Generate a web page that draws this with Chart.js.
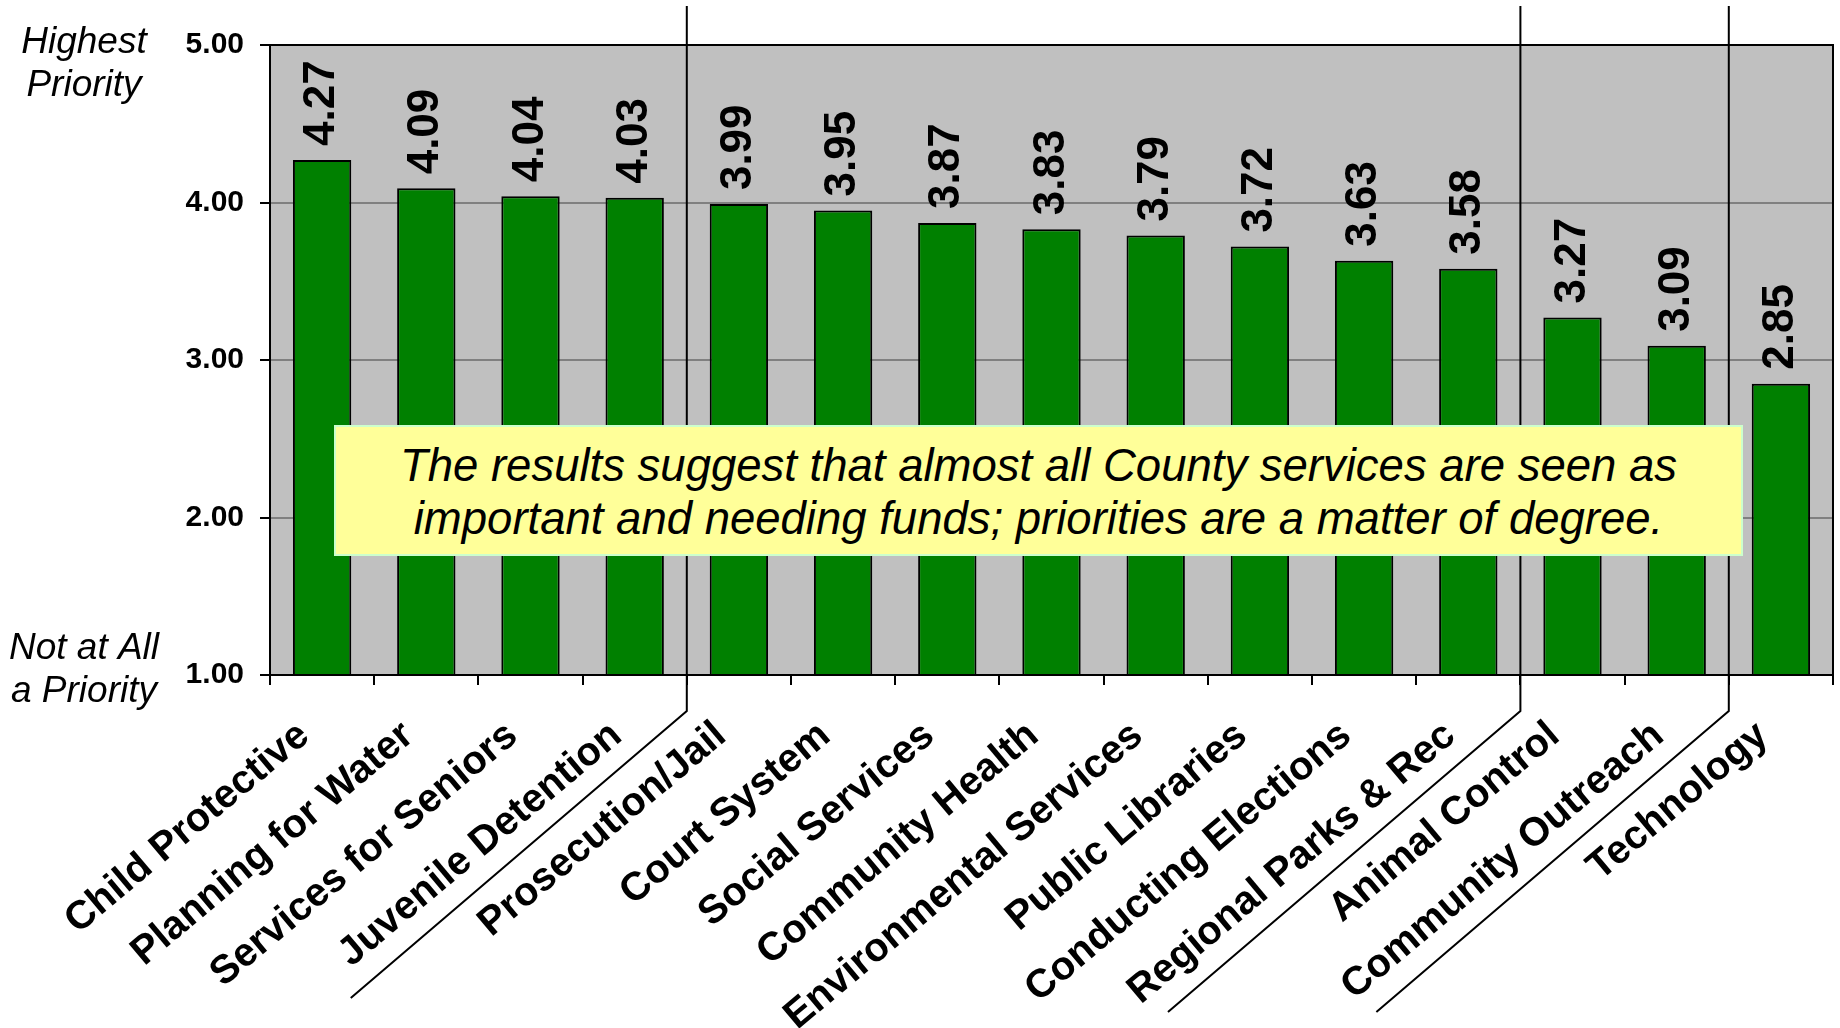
<!DOCTYPE html>
<html>
<head>
<meta charset="utf-8">
<script src="https://cdn.jsdelivr.net/npm/chart.js@4/dist/chart.umd.min.js"></script>
<style>
  body { margin: 0; background: #fff; }
  #quadro { position: relative; width: 1840px; height: 1028px; }
  #nota {
    position: absolute;
    left: 334px;
    top: 425px;
    width: 1409px;
    height: 131px;
    box-sizing: border-box;
    padding-top: 12px;
    background: #ffff99;
    border: 2px solid #ccffcc;
    font: italic 45.5px "Liberation Sans", Arial, sans-serif;
    line-height: 53px;
    text-align: center;
    color: #000;
  }
</style>
</head>
<body>
<div id="quadro">
  <canvas id="grafico" width="1840" height="1028"></canvas>
  <div id="nota"></div>
</div>
<script>
// Dados
const categorias = [
  "Child Protective",
  "Planning for Water",
  "Services for Seniors",
  "Juvenile Detention",
  "Prosecution/Jail",
  "Court System",
  "Social Services",
  "Community Health",
  "Environmental Services",
  "Public Libraries",
  "Conducting Elections",
  "Regional Parks & Rec",
  "Animal Control",
  "Community Outreach",
  "Technology",
];
const medias = [4.27, 4.09, 4.04, 4.03, 3.99, 3.95, 3.87, 3.83, 3.79, 3.72, 3.63, 3.58, 3.27, 3.09, 2.85];
const valoresEixoY = [1, 2, 3, 4, 5];
const divisoesGrupos = [4, 12, 14]; // grupo termina depois destas categorias
const rotuloTopo = ["Highest", "Priority"];
const rotuloBase = ["Not at All", "a Priority"];
const notaLinhas = [
  "The results suggest that almost all County services are seen as",
  "important and needing funds; priorities are a matter of degree.",
];

const FONTE = '"Liberation Sans", Arial, sans-serif';

document.getElementById("nota").innerHTML = notaLinhas.join("<br>");

// Fundo cinza da area do grafico
const fundoPlugin = {
  id: "fundo",
  beforeDraw(chart) {
    const { ctx, chartArea } = chart;
    ctx.save();
    ctx.fillStyle = "#c0c0c0";
    ctx.fillRect(chartArea.left, chartArea.top, chartArea.width, chartArea.height);
    ctx.restore();
  },
};

// Moldura, valores e textos extras
const extrasPlugin = {
  id: "extras",
  afterDatasetsDraw(chart) {
    const { ctx, chartArea } = chart;
    ctx.save();
    ctx.strokeStyle = "#000";
    ctx.lineWidth = 2;
    ctx.strokeRect(chartArea.left, chartArea.top, chartArea.width, chartArea.height);

    // valores em cima das barras
    ctx.fillStyle = "#000";
    ctx.font = "bold 44px " + FONTE;
    ctx.textAlign = "left";
    ctx.textBaseline = "middle";
    chart.getDatasetMeta(0).data.forEach((barra, i) => {
      ctx.save();
      ctx.translate(barra.x, barra.y - 14);
      ctx.rotate(-Math.PI / 2);
      ctx.fillText(medias[i].toFixed(2), 0, 0);
      ctx.restore();
    });
    ctx.restore();
  },
  afterDraw(chart) {
    const { ctx } = chart;
    const x = chart.scales.x;
    const y = chart.scales.y;
    ctx.save();

    // linhas separando os grupos
    ctx.strokeStyle = "#000";
    ctx.lineWidth = 2;
    const dobra = y.bottom + 36;
    const fimLinhas = [998, 1012, 1012];
    const inclinacao = Math.tan((40.5 * Math.PI) / 180);
    divisoesGrupos.forEach((k, i) => {
      const px = (x.getPixelForValue(k - 1) + x.getPixelForValue(k)) / 2;
      const fim = fimLinhas[i];
      ctx.beginPath();
      ctx.moveTo(px, 6);
      ctx.lineTo(px, dobra);
      ctx.lineTo(px - (fim - dobra) / inclinacao, fim);
      ctx.stroke();
    });

    // Highest Priority / Not at All a Priority
    ctx.fillStyle = "#000";
    ctx.font = "italic 37px " + FONTE;
    ctx.textAlign = "center";
    ctx.textBaseline = "alphabetic";
    const topo = y.getPixelForValue(5);
    const base = y.getPixelForValue(1);
    ctx.fillText(rotuloTopo[0], 84, topo + 8);
    ctx.fillText(rotuloTopo[1], 84, topo + 51);
    ctx.fillText(rotuloBase[0], 84, base - 16);
    ctx.fillText(rotuloBase[1], 84, base + 27);
    ctx.restore();
  },
};

new Chart(document.getElementById("grafico"), {
  type: "bar",
  data: {
    labels: categorias,
    datasets: [
      {
        label: "",
        data: medias,
        backgroundColor: "#008000",
        borderColor: "#000",
        borderWidth: 2,
        barPercentage: 0.56,
        categoryPercentage: 1,
      },
    ],
  },
  options: {
    responsive: false,
    animation: false,
    layout: { padding: { top: 45, right: 7, left: 0, bottom: 0 } },
    plugins: {
      legend: { display: false },
      tooltip: { enabled: false },
    },
    scales: {
      x: {
        afterFit(scale) {
          scale.height = 353;
        },
        grid: {
          offset: true,
          drawOnChartArea: false,
          tickLength: 10,
          tickColor: "#000",
          lineWidth: 2,
        },
        border: { color: "#000", width: 2 },
        ticks: {
          autoSkip: false,
          minRotation: 40,
          maxRotation: 40,
          padding: 27,
          labelOffset: -18,
          color: "#000",
          font: { family: FONTE, size: 40, weight: "bold" },
        },
      },
      y: {
        min: 1,
        max: 5,
        afterFit(scale) {
          scale.width = 270;
        },
        afterBuildTicks(scale) {
          scale.ticks = valoresEixoY.map((v) => ({ value: v }));
        },
        grid: {
          color: "#808080",
          lineWidth: 2,
          tickLength: 10,
          tickColor: "#000",
        },
        border: { color: "#000", width: 2 },
        ticks: {
          padding: 16,
          color: "#000",
          font: { family: FONTE, size: 30, weight: "bold" },
          callback: (v) => Number(v).toFixed(2),
        },
      },
    },
  },
  plugins: [fundoPlugin, extrasPlugin],
});
</script>
</body>
</html>
